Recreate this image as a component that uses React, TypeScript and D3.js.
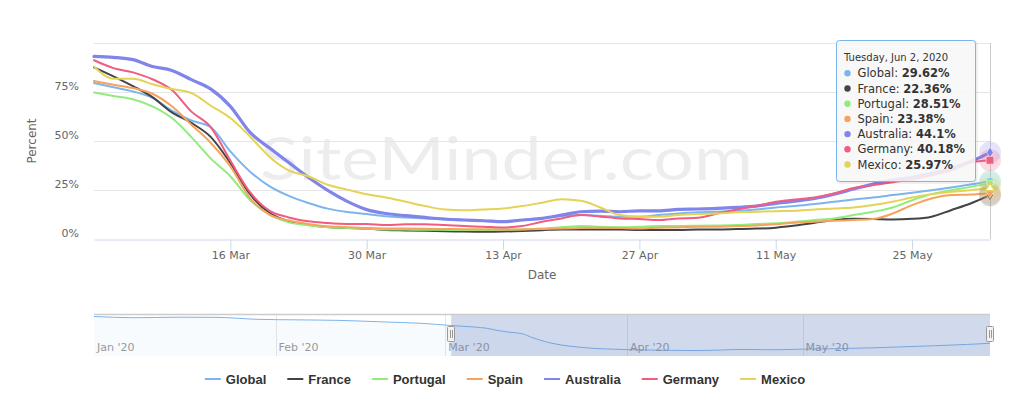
import React, { useEffect, useRef } from 'react';
import * as d3 from 'd3';

// readings every two days, 2 Mar .. 2 Jun 2020
const startDate = new Date(2020, 2, 2);
const endDate = new Date(2020, 5, 2);
const dates = d3.timeDay.range(startDate, d3.timeDay.offset(endDate, 1), 2);

const seriesNames = ['Global', 'France', 'Portugal', 'Spain', 'Australia', 'Germany', 'Mexico'];
const seriesColors = ['#7cb5ec', '#434348', '#90ed7d', '#f7a35c', '#8085e9', '#f15c80', '#e4d354'];

const globalVals = [79.6, 77.4, 75.3, 72, 65.5, 60.5, 57, 44.7, 34.5, 27, 22, 18.4, 15.5, 13.8, 12.8, 11.6, 11, 10.5, 10, 9.7, 9.3, 9.2, 9.7, 10.5, 11.7, 12.2, 11.8, 11.4, 11.4, 12.2, 13, 13.6, 13.9, 14.4, 15.1, 16.1, 16.8, 17.8, 19, 20.2, 21.2, 22.4, 23.6, 24.9, 26.3, 27.8, 29.62];
const franceVals = [87.6, 83, 78, 72.4, 64.6, 59.2, 52, 38.8, 23, 13.3, 9, 7.3, 6.1, 5.6, 5.3, 4.6, 4.4, 4.2, 4, 3.8, 3.7, 3.8, 4.1, 4.5, 4.9, 4.9, 4.8, 4.8, 4.6, 4.6, 4.6, 4.9, 4.9, 5.1, 5.3, 5.8, 6.9, 8.3, 9.7, 10.3, 10.2, 10, 10.3, 11.4, 14.7, 18.1, 22.36];
const portugalVals = [74.8, 73, 71.3, 67.7, 61.7, 52, 41, 32, 20, 12.5, 8.5, 7, 6, 5.6, 5.3, 4.9, 4.8, 4.7, 4.7, 4.6, 4.6, 4.8, 5, 5.4, 6, 6.6, 6.3, 6, 6.3, 6.6, 6.6, 6.8, 6.9, 7.1, 7.6, 8, 8.8, 9.7, 10.5, 12.2, 13.9, 16.1, 19.8, 22.9, 24.9, 26.6, 28.51];
const spainVals = [80.6, 78.7, 77, 74.1, 67.7, 58.3, 49, 37, 21, 12.4, 9.4, 7.7, 6.5, 6, 5.6, 5.4, 5.3, 5.2, 5.1, 5, 5, 4.9, 4.9, 5.1, 5.4, 5.6, 5.8, 5.6, 5.4, 5.8, 5.9, 6.3, 6.3, 6.6, 6.9, 7.5, 8.3, 8.8, 9.3, 9.7, 10.2, 13, 17.3, 20.7, 22.4, 22.7, 23.38];
const australiaVals = [93.2, 92.7, 91.5, 88, 86, 81.3, 76.5, 67.7, 54.5, 46.5, 39, 31.5, 24.8, 19.2, 15, 13, 11.9, 11, 10.2, 9.7, 9.3, 8.8, 9.7, 10.5, 12.2, 13.9, 14.2, 13.9, 14.4, 14.4, 15.1, 15.3, 15.6, 16.1, 16.8, 18.1, 19.3, 20.7, 22.9, 25.5, 28, 30, 31.5, 33.5, 36, 39.5, 44.1];
const germanyVals = [91.2, 87.2, 85, 81.5, 76, 65, 57, 40, 24, 14.5, 11, 9, 8.2, 7.7, 7.6, 7.1, 7.5, 7.5, 7.1, 6.6, 6.3, 5.9, 6.6, 8.8, 10.5, 12.2, 11.4, 10.5, 10.2, 9.7, 10.5, 10.8, 13, 15.1, 16.8, 19, 20.2, 21.2, 23.2, 26, 27.5, 29, 30.5, 32.5, 35, 39, 40.18];
const mexicoVals = [88, 81.8, 81.8, 79, 76.5, 74.5, 68, 61.7, 52.4, 42, 35, 32, 27.7, 25.2, 22.8, 21.2, 19, 16.8, 15.1, 14.7, 15.1, 15.6, 16.8, 18.5, 20.3, 19.5, 16.1, 12.2, 11.4, 11.4, 12.2, 12.7, 13, 13.6, 13.9, 14.2, 14.4, 15.1, 15.6, 16.1, 17.3, 19, 21.2, 22.9, 24.1, 24.9, 25.97];

const allVals = [globalVals, franceVals, portugalVals, spainVals, australiaVals, germanyVals, mexicoVals];

// navigator: global series before the zoomed window (weekly)
const navEarlyDates = ['2020-01-01', '2020-01-08', '2020-01-15', '2020-01-22', '2020-01-29', '2020-02-05', '2020-02-12', '2020-02-19', '2020-02-26'];
const navEarlyVals = [105, 101.5, 103, 102.6, 97, 95.5, 94, 90, 85.7];
const navMonths = ['2020-01-01', '2020-02-01', '2020-03-01', '2020-04-01', '2020-05-01'];

const xTickDates = ['2020-03-16', '2020-03-30', '2020-04-13', '2020-04-27', '2020-05-11', '2020-05-25'];
const yTicks = [0, 25, 50, 75, 100];

const parse = d3.timeParse('%Y-%m-%d');

export default function App() {
    const ref = useRef<SVGSVGElement>(null);

    useEffect(() => {
        const svg = d3.select(ref.current);
        svg.selectAll('*').remove();

        const plot = { left: 94, right: 990, top: 43, bottom: 239 };
        const nav = { top: 314, bottom: 356 };

        const x = d3.scaleTime().domain([startDate, endDate]).range([plot.left, plot.right]);
        const y = d3.scaleLinear().domain([0, 100]).range([plot.bottom, plot.top]);

        // watermark
        svg.append('text')
            .attr('x', 260)
            .attr('y', 180)
            .attr('textLength', 493)
            .attr('lengthAdjust', 'spacingAndGlyphs')
            .style('font-family', 'Lato, sans-serif')
            .style('font-weight', 400)
            .style('font-size', '60px')
            .attr('fill', '#000')
            .attr('fill-opacity', 0.07)
            .text('SiteMinder.com');

        // grid
        svg.append('g').selectAll('line')
            .data(yTicks.filter(t => t > 0))
            .enter().append('line')
            .attr('x1', plot.left).attr('x2', plot.right)
            .attr('y1', d => Math.round(y(d)) + 0.5).attr('y2', d => Math.round(y(d)) + 0.5)
            .attr('stroke', '#e6e6e6');
        svg.append('g').selectAll('text')
            .data(yTicks.filter(t => t < 100))
            .enter().append('text')
            .attr('x', 79)
            .attr('y', d => y(d) - 2)
            .attr('text-anchor', 'end')
            .style('font-size', '11px')
            .attr('fill', '#666')
            .text(d => d + '%');
        svg.append('text')
            .attr('text-anchor', 'middle')
            .attr('transform', 'translate(36,' + (plot.top + plot.bottom) / 2 + ') rotate(-90)')
            .style('font-size', '12px')
            .attr('fill', '#666')
            .text('Percent');

        // x axis
        const xAxis = d3.axisBottom(x)
            .tickValues(xTickDates.map(s => parse(s)!))
            .tickFormat(d3.timeFormat('%-d %b') as any)
            .tickSize(10)
            .tickSizeOuter(0)
            .tickPadding(2);
        const gx = svg.append('g')
            .attr('transform', 'translate(0,' + (plot.bottom + 0.5) + ')')
            .call(xAxis);
        gx.select('.domain').attr('stroke', '#ccd6eb');
        gx.selectAll('.tick line').attr('stroke', '#ccd6eb');
        gx.selectAll('.tick text').attr('fill', '#666').style('font-size', '11px').style('font-family', 'DejaVu Sans, sans-serif');
        svg.append('text')
            .attr('x', (plot.left + plot.right) / 2)
            .attr('y', 279)
            .attr('text-anchor', 'middle')
            .style('font-size', '12px')
            .attr('fill', '#666')
            .text('Date');

        // crosshair on the hovered day
        svg.append('line')
            .attr('x1', Math.round(x(endDate)) + 0.5).attr('x2', Math.round(x(endDate)) + 0.5)
            .attr('y1', plot.top).attr('y2', plot.bottom)
            .attr('stroke', '#cccccc');

        // series
        svg.append('clipPath').attr('id', 'plot-clip')
            .append('rect')
            .attr('x', plot.left - 2).attr('y', plot.top - 5)
            .attr('width', plot.right - plot.left + 4).attr('height', plot.bottom - plot.top + 5);
        const line = d3.line<number>()
            .x((d, i) => x(dates[i]))
            .y(d => y(d))
            .curve(d3.curveMonotoneX);
        const lines = svg.append('g').attr('clip-path', 'url(#plot-clip)');
        allVals.forEach((vals, i) => {
            lines.append('path')
                .datum(vals)
                .attr('d', line)
                .attr('fill', 'none')
                .attr('stroke', seriesColors[i])
                .attr('stroke-width', seriesNames[i] === 'Australia' ? 3.2 : 2)
                .attr('stroke-linejoin', 'round')
                .attr('stroke-linecap', 'round');
        });

        // hover halos and markers at the last point
        const symbols = [d3.symbolCircle, d3.symbolDiamond, d3.symbolCircle, d3.symbolTriangle, d3.symbolDiamond, d3.symbolSquare, d3.symbolTriangle];
        const last = dates.length - 1;
        const markers = svg.append('g');
        allVals.forEach((vals, i) => {
            markers.append('circle')
                .attr('cx', x(dates[last])).attr('cy', y(vals[last]))
                .attr('r', 11)
                .attr('fill', seriesColors[i])
                .attr('fill-opacity', 0.22);
        });
        allVals.forEach((vals, i) => {
            markers.append('path')
                .attr('transform', 'translate(' + x(dates[last]) + ',' + y(vals[last]) + ')' + (i === 3 ? ' rotate(180)' : ''))
                .attr('d', d3.symbol().type(symbols[i]).size(i === 5 ? 60 : 36)())
                .attr('fill', i === 6 ? '#fff' : seriesColors[i])
                .attr('stroke', i === 6 ? seriesColors[i] : '#fff')
                .attr('stroke-width', i === 6 ? 1.5 : 0.5);
        });

        // navigator
        const nx = d3.scaleTime()
            .domain([parse('2020-01-01')!, endDate])
            .range([plot.left, plot.right]);
        const navData = navEarlyDates.map((s, i) => ({ date: parse(s)!, value: navEarlyVals[i] }))
            .concat(dates.map((dt, i) => ({ date: dt, value: globalVals[i] })));
        const ny = d3.scaleLinear()
            .domain(d3.extent(navData, d => d.value) as [number, number])
            .range([350.5, 316.5]);
        const navG = svg.append('g');
        navG.selectAll('.nav-grid')
            .data(navMonths.slice(1))
            .enter().append('line')
            .attr('x1', d => Math.round(nx(parse(d)!)) + 0.5).attr('x2', d => Math.round(nx(parse(d)!)) + 0.5)
            .attr('y1', nav.top).attr('y2', nav.bottom)
            .attr('stroke', '#e6e6e6');
        navG.append('path')
            .datum(navData)
            .attr('d', d3.area<{ date: Date, value: number }>()
                .x(d => nx(d.date)).y0(nav.bottom).y1(d => ny(d.value))
                .curve(d3.curveMonotoneX))
            .attr('fill', '#7cb5ec')
            .attr('fill-opacity', 0.05);
        navG.append('path')
            .datum(navData)
            .attr('d', d3.line<{ date: Date, value: number }>()
                .x(d => nx(d.date)).y(d => ny(d.value))
                .curve(d3.curveMonotoneX))
            .attr('fill', 'none')
            .attr('stroke', '#7cb5ec')
            .attr('stroke-width', 1);
        navG.selectAll('.nav-label')
            .data(navMonths)
            .enter().append('text')
            .attr('x', d => nx(parse(d)!) + 3)
            .attr('y', 350.5)
            .style('font-size', '11px')
            .attr('fill', '#999')
            .text(d => d3.timeFormat("%b '%y")(parse(d)!));
        const maskX0 = nx(startDate);
        const maskX1 = nx(endDate);
        navG.append('rect')
            .attr('x', maskX0).attr('y', nav.top)
            .attr('width', maskX1 - maskX0).attr('height', nav.bottom - nav.top)
            .attr('fill', 'rgba(102,133,194,0.3)');
        navG.append('line')
            .attr('x1', plot.left).attr('x2', plot.right)
            .attr('y1', nav.top + 0.5).attr('y2', nav.top + 0.5)
            .attr('stroke', '#cccccc')
            .attr('stroke-width', 1.5);
        [maskX0, maskX1].forEach(hx => {
            const h = navG.append('g').attr('transform', 'translate(' + Math.round(hx) + ',0)');
            h.append('rect')
                .attr('x', -3.5).attr('y', 326.5)
                .attr('width', 7).attr('height', 15)
                .attr('rx', 1)
                .attr('fill', '#f2f2f2').attr('stroke', '#999');
            [-1, 1].forEach(o => {
                h.append('line')
                    .attr('x1', o + 0.5).attr('x2', o + 0.5)
                    .attr('y1', 330).attr('y2', 338)
                    .attr('stroke', '#999');
            });
        });

        // legend
        const legend = svg.append('g');
        let cursor = 0;
        const itemDistance = 21;
        seriesNames.forEach((name, i) => {
            const item = legend.append('g').attr('transform', 'translate(' + cursor + ',0)');
            item.append('line')
                .attr('x1', 0).attr('x2', 16)
                .attr('y1', 379).attr('y2', 379)
                .attr('stroke', seriesColors[i]).attr('stroke-width', 2);
            const t = item.append('text')
                .attr('x', 21).attr('y', 383.5)
                .style('font-family', 'Liberation Sans, Arial, sans-serif')
                .style('font-size', '13px')
                .style('font-weight', 'bold')
                .attr('fill', '#333')
                .text(name);
            const w = (t.node() as SVGTextElement).getComputedTextLength();
            cursor += 21 + w + itemDistance;
        });
        const legendWidth = cursor - itemDistance;
        legend.attr('transform', 'translate(' + (505 - legendWidth / 2) + ',0)');

        // tooltip
        const tip = svg.append('g').attr('transform', 'translate(836.5,40.5)');
        tip.append('rect')
            .attr('x', 1).attr('y', 1).attr('width', 139).attr('height', 141).attr('rx', 3)
            .attr('fill', 'none').attr('stroke', 'rgba(0,0,0,0.06)').attr('stroke-width', 3);
        tip.append('rect')
            .attr('width', 139).attr('height', 141).attr('rx', 3)
            .attr('fill', 'rgba(247,247,247,0.88)')
            .attr('stroke', '#7cb5ec');
        tip.append('text')
            .attr('x', 7.5).attr('y', 20.5)
            .style('font-size', '10px')
            .attr('fill', '#333')
            .text(d3.timeFormat('%A, %b %-d, %Y')(endDate));
        seriesNames.forEach((name, i) => {
            const rowY = 36.8 + i * 15.2;
            tip.append('circle')
                .attr('cx', 11).attr('cy', rowY - 4)
                .attr('r', 3.2)
                .attr('fill', seriesColors[i]);
            const t = tip.append('text')
                .attr('x', 21).attr('y', rowY)
                .style('font-size', '11.5px')
                .attr('fill', '#333');
            t.append('tspan').text(name + ': ');
            t.append('tspan').style('font-weight', 'bold').text(allVals[i][last] + '%');
        });
    }, []);

    return (
        <svg
            ref={ref}
            width={1024}
            height={397}
            style={{ position: 'absolute', left: 0, top: 0, background: '#fff', fontFamily: 'DejaVu Sans, sans-serif' }}
        />
    );
}
